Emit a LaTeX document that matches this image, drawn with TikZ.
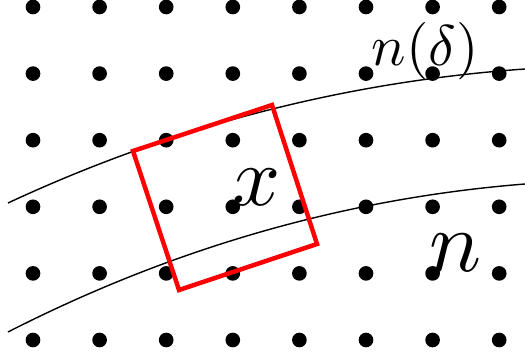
\documentclass[tikz,border=0pt]{standalone}
\begin{document}
\begin{tikzpicture}[x=0.015cm,y=-0.015cm,
  gdot/.style={fill=black,draw=none},
  curve/.style={draw=black,line width=0.6pt},
  patch/.style={draw=red,line width=1.9pt,line join=miter},
  lbl/.style={inner sep=0pt,outer sep=0pt}]
\useasboundingbox (0,0) rectangle (525,358);
% dot grid
\foreach \i in {0,...,7}{
  \foreach \j in {0,...,5}{
    \fill[gdot] ({33+66.6*\i},{7+66.6*\j}) circle[radius=0.11cm];
  }
}
% curves
\draw[curve] (8,203) .. controls (172.7,126.3) and (345,81.7) .. (525,69);
\draw[curve] (8,332) .. controls (173.3,247.7) and (345.7,198.3) .. (525,184);
% red square
\draw[patch] (133,151) -- (272,105) -- (317,244) -- (179,290) -- cycle;
% labels
\node[lbl,scale=2.45] (nd) at (425,51) {$n(\delta)$};
\node[lbl,scale=3.6] (xl) at (256.5,187.5) {$x$};
\node[lbl,scale=3.7] (nl) at (456,253) {$n$};
\end{tikzpicture}
\end{document}
